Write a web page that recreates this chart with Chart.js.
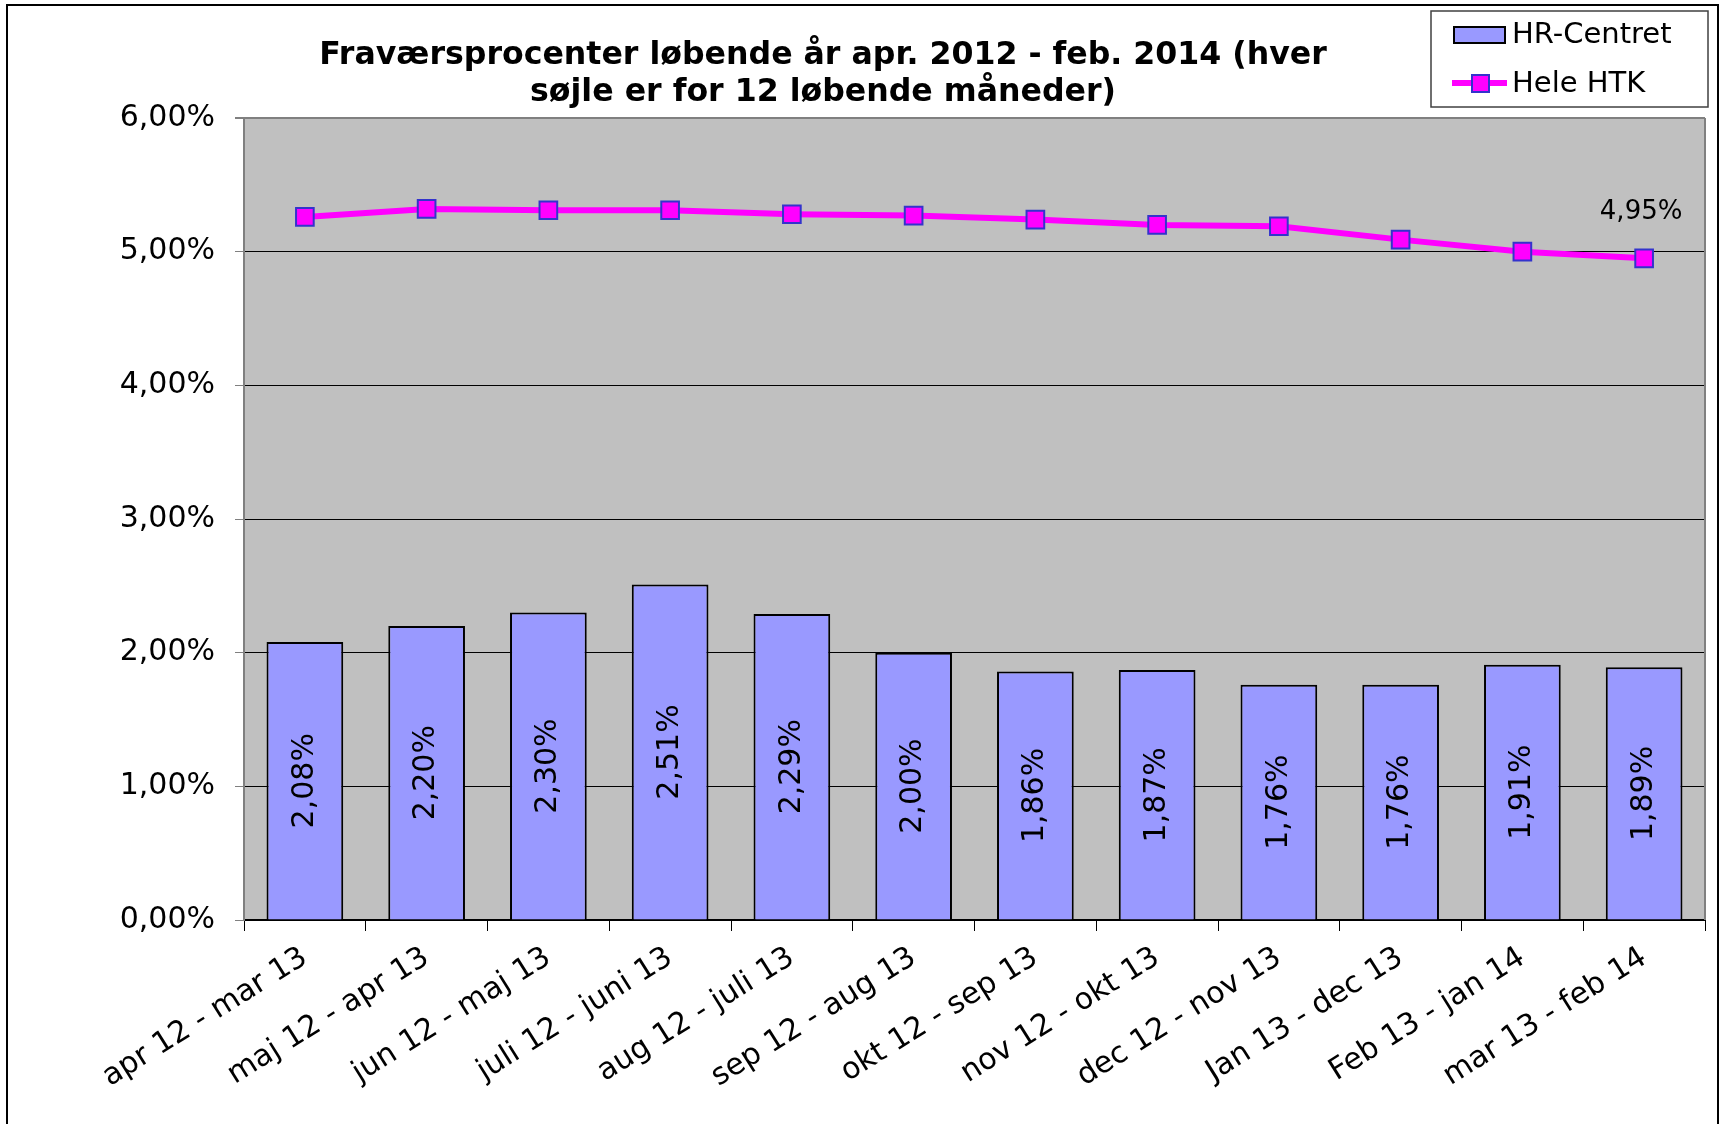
<!DOCTYPE html>
<html>
<head>
<meta charset="utf-8">
<script src="https://cdn.jsdelivr.net/npm/chart.js@4"></script>
<style>
  html, body { margin: 0; padding: 0; background: #ffffff; }
  canvas { display: block; }
</style>
</head>
<body>
<canvas id="c" width="1725" height="1124"></canvas>
<script>
const titleLines = ['Fraværsprocenter løbende år apr. 2012 - feb. 2014 (hver', 'søjle er for 12 løbende måneder)'];
const categories = ['apr 12 - mar 13', 'maj 12 - apr 13', 'jun 12 - maj 13', 'juli 12 - juni 13', 'aug 12 - juli 13', 'sep 12 - aug 13', 'okt 12 - sep 13', 'nov 12 - okt 13', 'dec 12 - nov 13', 'Jan 13 - dec 13', 'Feb 13 - jan 14', 'mar 13 - feb 14'];
const hrCentret = [2.08, 2.20, 2.30, 2.51, 2.29, 2.00, 1.86, 1.87, 1.76, 1.76, 1.91, 1.89];
const heleHTK = [5.26, 5.32, 5.31, 5.31, 5.28, 5.27, 5.24, 5.20, 5.19, 5.09, 5.00, 4.95];
const barLabels = ['2,08%', '2,20%', '2,30%', '2,51%', '2,29%', '2,00%', '1,86%', '1,87%', '1,76%', '1,76%', '1,91%', '1,89%'];
const lineLabels = ['', '', '', '', '', '', '', '', '', '', '', '4,95%'];
const yTickLabels = ['0,00%', '1,00%', '2,00%', '3,00%', '4,00%', '5,00%', '6,00%'];
const seriesNames = ['HR-Centret', 'Hele HTK'];

const FONT = "'DejaVu Sans', Verdana, sans-serif";

const decor = {
  id: 'decor',
  beforeDraw(chart) {
    const ctx = chart.ctx, a = chart.chartArea;
    ctx.save();
    ctx.fillStyle = '#ffffff';
    ctx.fillRect(0, 0, chart.width, chart.height);
    ctx.strokeStyle = '#000000';
    ctx.lineWidth = 2;
    ctx.strokeRect(7, 5, 1711, 1130);
    ctx.fillStyle = '#C0C0C0';
    ctx.fillRect(a.left, a.top, a.right - a.left, a.bottom - a.top);
    ctx.restore();
  },
  beforeDatasetsDraw(chart) {
    const ctx = chart.ctx, a = chart.chartArea;
    ctx.save();
    ctx.strokeStyle = '#808080';
    ctx.lineWidth = 2;
    ctx.beginPath();
    ctx.moveTo(a.right, a.top);
    ctx.lineTo(a.right, a.bottom);
    ctx.stroke();
    ctx.restore();
  },
  afterDraw(chart) {
    const ctx = chart.ctx;
    ctx.save();
    // title
    ctx.fillStyle = '#000';
    ctx.font = "bold 31.6px " + FONT;
    ctx.textAlign = 'center';
    ctx.textBaseline = 'alphabetic';
    ctx.fillText(titleLines[0], 823, 64);
    ctx.fillText(titleLines[1], 823, 101);

    // bar value labels
    const barMeta = chart.getDatasetMeta(0);
    ctx.font = "30px " + FONT;
    barMeta.data.forEach((el, i) => {
      const p = el.getProps(['x', 'y', 'base'], true);
      ctx.save();
      ctx.translate(p.x, (p.y + p.base) / 2);
      ctx.rotate(-Math.PI / 2);
      ctx.textAlign = 'center';
      ctx.textBaseline = 'middle';
      ctx.fillText(barLabels[i], 0, 0);
      ctx.restore();
    });

    // line label
    const lineMeta = chart.getDatasetMeta(1);
    ctx.font = "26px " + FONT;
    lineMeta.data.forEach((el, i) => {
      if (!lineLabels[i]) return;
      const p = el.getProps(['x', 'y'], true);
      ctx.textAlign = 'center';
      ctx.textBaseline = 'middle';
      ctx.fillText(lineLabels[i], p.x - 3, p.y - 46);
    });

    // legend
    ctx.strokeStyle = '#404040';
    ctx.lineWidth = 1.5;
    ctx.fillStyle = '#ffffff';
    ctx.fillRect(1431, 11, 277, 96);
    ctx.strokeRect(1431, 11, 277, 96);
    ctx.fillStyle = '#9999FF';
    ctx.fillRect(1454, 27, 51, 16);
    ctx.strokeStyle = '#000';
    ctx.lineWidth = 2;
    ctx.strokeRect(1454, 27, 51, 16);
    ctx.strokeStyle = '#FF00FF';
    ctx.lineWidth = 6;
    ctx.beginPath();
    ctx.moveTo(1452, 83);
    ctx.lineTo(1507, 83);
    ctx.stroke();
    ctx.fillStyle = '#FF00FF';
    ctx.fillRect(1472, 75, 17, 17);
    ctx.strokeStyle = '#3333CC';
    ctx.lineWidth = 2;
    ctx.strokeRect(1472, 75, 17, 17);
    ctx.fillStyle = '#000';
    ctx.font = "29px " + FONT;
    ctx.textAlign = 'left';
    ctx.textBaseline = 'middle';
    ctx.fillText(seriesNames[0], 1512, 35);
    ctx.fillText(seriesNames[1], 1512, 84);
    ctx.restore();
  }
};

new Chart(document.getElementById('c'), {
  data: {
    labels: categories,
    datasets: [
      {
        type: 'bar',
        label: seriesNames[0],
        data: hrCentret,
        backgroundColor: '#9999FF',
        borderColor: '#000000',
        borderWidth: 2,
        barPercentage: 0.63,
        categoryPercentage: 1.0,
        order: 2
      },
      {
        type: 'line',
        label: seriesNames[1],
        data: heleHTK,
        borderColor: '#FF00FF',
        borderWidth: 6,
        tension: 0,
        pointStyle: 'rect',
        pointRadius: 12.5,
        pointHoverRadius: 12.5,
        pointBackgroundColor: '#FF00FF',
        pointBorderColor: '#3333CC',
        pointBorderWidth: 2,
        order: 1
      }
    ]
  },
  options: {
    responsive: false,
    animation: false,
    devicePixelRatio: 1,
    layout: { padding: { left: 0, right: 20, top: 118, bottom: 0 } },
    plugins: {
      legend: { display: false },
      title: { display: false },
      tooltip: { enabled: false }
    },
    scales: {
      x: {
        type: 'category',
        afterFit(scale) { scale.height = 204; },
        grid: {
          display: true,
          drawOnChartArea: false,
          drawTicks: true,
          tickLength: 11,
          tickColor: '#000000',
          tickWidth: 1,
          offset: true
        },
        border: { display: true, color: '#000000', width: 2 },
        ticks: {
          autoSkip: false,
          maxRotation: 32,
          minRotation: 32,
          padding: 9,
          color: '#000000',
          font: { family: FONT, size: 30 }
        }
      },
      y: {
        min: 0,
        max: 6,
        afterFit(scale) { scale.width = 244; },
        ticks: {
          stepSize: 1,
          padding: 20,
          color: '#000000',
          font: { family: FONT, size: 30 },
          callback: (v) => yTickLabels[Math.round(v)]
        },
        grid: {
          color: (c) => (c.tick && c.tick.value === 6) ? '#808080' : '#000000',
          lineWidth: (c) => (c.tick && c.tick.value === 6) ? 2 : 1,
          tickLength: 9,
          tickColor: '#808080',
          drawTicks: true
        },
        border: { display: true, color: '#808080', width: 2 }
      }
    }
  },
  plugins: [decor]
});
</script>
</body>
</html>
